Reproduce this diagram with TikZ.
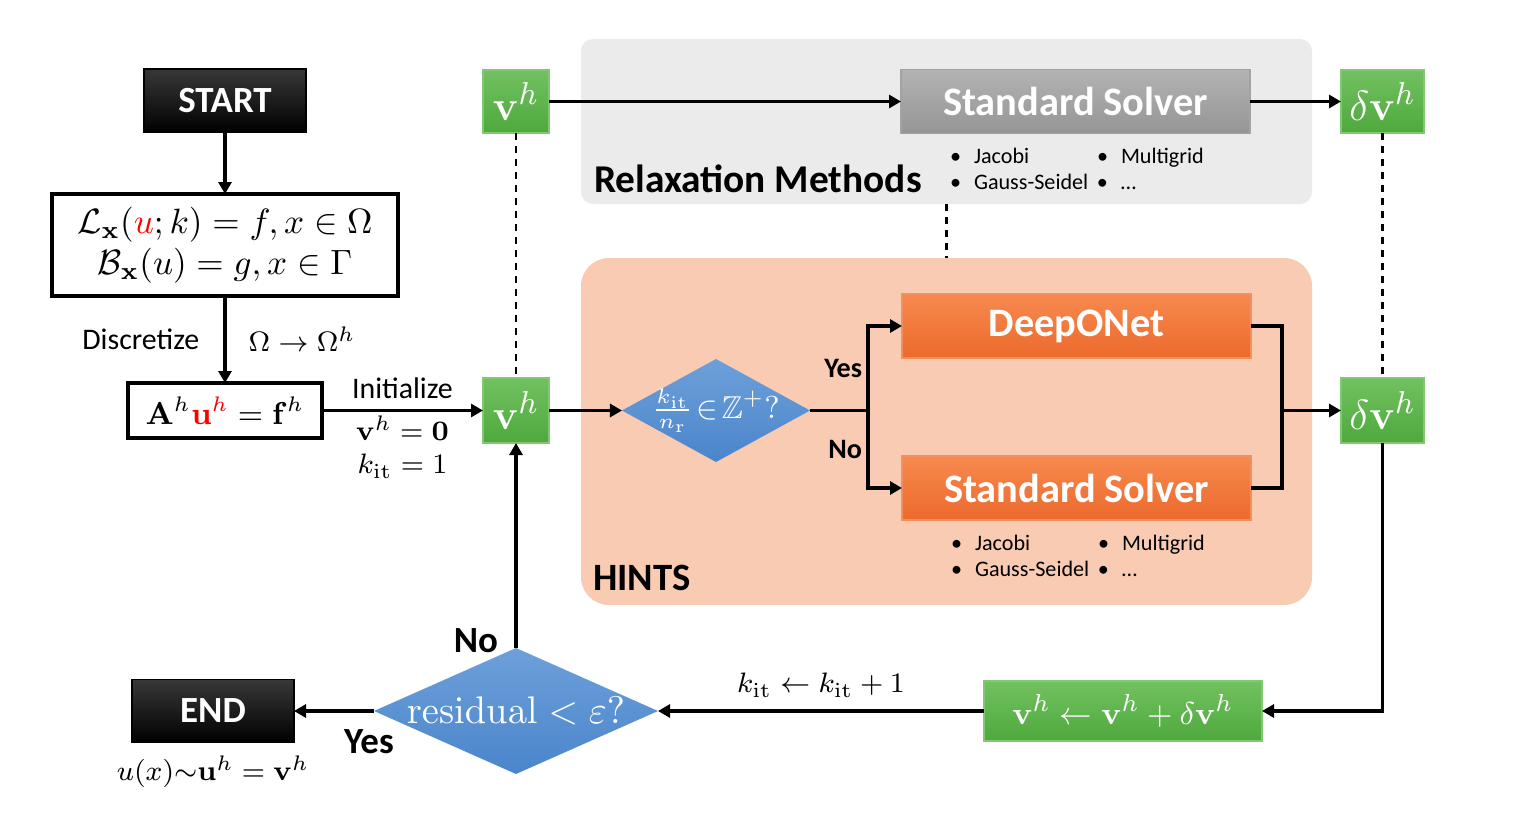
\documentclass[tikz,border=0pt]{standalone}
\usepackage[no-math]{fontspec}
\setmainfont{Carlito}
\usepackage{amsmath,amssymb}
\usepackage{xcolor}
\usetikzlibrary{arrows.meta, positioning, shapes.geometric, calc}

\definecolor{greentop}{HTML}{72C160}
\definecolor{greenbot}{HTML}{4EA93D}
\definecolor{greenline}{HTML}{82C872}
\definecolor{orangetop}{HTML}{F78A4F}
\definecolor{orangebot}{HTML}{EC692C}
\definecolor{orangeline}{HTML}{F3915E}
\definecolor{graytop}{HTML}{B3B3B3}
\definecolor{graybot}{HTML}{959595}
\definecolor{grayline}{HTML}{A3A3A3}
\definecolor{bluetop}{HTML}{6DA0DA}
\definecolor{bluebot}{HTML}{4A85CB}
\definecolor{relaxfill}{HTML}{EBEBEB}
\definecolor{hintsfill}{HTML}{F9CBB2}

\newcommand{\solverlist}{%
  \makebox[1.47cm][l]{\textbullet\hspace{0.13cm}Jacobi}\textbullet\hspace{0.13cm}Multigrid\\
  \makebox[1.47cm][l]{\textbullet\hspace{0.13cm}Gauss-Seidel}\textbullet\hspace{0.13cm}\ldots}

\begin{document}
\begin{tikzpicture}[
  every node/.append style={outer sep=0pt},
  termbox/.style={draw=black, top color=black!78, bottom color=black, text=white,
                  font=\fontsize{10.5}{12}\selectfont\bfseries,
                  minimum width=1.62cm, minimum height=0.63cm},
  eqbox/.style={draw, line width=1pt, fill=white, align=center},
  vbox/.style={draw=greenline, line width=0.4pt, top color=greentop, bottom color=greenbot,
               text=white, minimum height=0.63cm, inner sep=0pt,
               font=\fontsize{13}{15}\selectfont},
  solverbox/.style={minimum width=3.49cm, minimum height=0.64cm, text=white,
                    font=\fontsize{11.5}{13}\selectfont\bfseries},
  hintbox/.style={solverbox, draw=orangeline, top color=orangetop, bottom color=orangebot},
  relaxbox/.style={solverbox, draw=grayline, top color=graytop, bottom color=graybot},
  decision/.style={diamond, top color=bluetop, bottom color=bluebot, text=white, inner sep=0pt},
  panel/.style={minimum width=7.31cm},
  arrow/.style={-{Triangle[length=0.12cm, width=0.13cm]}, line width=0.9pt},
  link/.style={line width=0.9pt},
  guide/.style={line width=0.7pt, dash pattern=on 0.07cm off 0.06cm},
  tag/.style={font=\fontsize{8.5}{10}\selectfont},
  yesno/.style={font=\fontsize{8}{10}\selectfont\bfseries, inner sep=0.06cm},
  bigyesno/.style={font=\fontsize{10.5}{12}\selectfont\bfseries, inner sep=0.06cm},
  methods/.style={font=\fontsize{6.3}{7.4}\selectfont, align=left, inner sep=0pt},
  title/.style={font=\fontsize{11.2}{13}\selectfont\bfseries, inner sep=0pt}
]
\useasboundingbox (0,0) rectangle (15.15,-8.31);

%% Panels
\node[panel, fill=relaxfill, rounded corners=0.12cm, minimum height=1.65cm] (relax) at (9.465,-1.215) {};
\node[panel, fill=hintsfill, rounded corners=0.28cm, minimum height=3.47cm] (hints) at (9.465,-4.315) {};
\node[title, above right=0.11cm and 0.13cm of relax.south west] (relaxtitle) {Relaxation Methods};
\node[title, font=\fontsize{11}{13}\selectfont\bfseries, above right=0.145cm and 0.12cm of hints.south west] (hintstitle) {HINTS};

%% Nodes
\node[termbox] (start) at (2.25,-1.005) {START};
\node[eqbox, minimum width=3.46cm, minimum height=1.02cm, below=0.62cm of start,
      font=\fontsize{10}{11.5}\selectfont] (pde)
      {$\mathcal{L}_{\mathbf{x}}(\textcolor{red}{u};k)=f,x\in\Omega$\\$\mathcal{B}_{\mathbf{x}}(u)=g,x\in\Gamma$};
\node[eqbox, minimum width=1.94cm, minimum height=0.55cm, below=0.87cm of pde,
      font=\fontsize{9}{11}\selectfont] (disc) {$\mathbf{A}^h\textcolor{red}{\mathbf{u}^h}=\mathbf{f}^h$};
\node[vbox, minimum width=0.66cm, minimum height=0.65cm, right=1.61cm of disc] (vmid) {$\mathbf{v}^h$};
\node[vbox, minimum width=0.66cm, above=2.45cm of vmid] (vtop) {$\mathbf{v}^h$};
\node[relaxbox, right=3.52cm of vtop] (relsolver) {Standard Solver};
\node[vbox, minimum width=0.83cm, right=0.91cm of relsolver] (dvtop) {$\delta\mathbf{v}^h$};
\node[vbox, minimum width=0.83cm, minimum height=0.65cm, below=2.45cm of dvtop] (dvmid) {$\delta\mathbf{v}^h$};
\node[decision, aspect=1.83, minimum width=1.88cm, minimum height=1.03cm, right=0.73cm of vmid,
      inner xsep=-0.1cm, inner ysep=-0.05cm,
      font=\fontsize{9}{11}\selectfont] (cond) {$\tfrac{k_{\mathrm{it}}}{n_{\mathrm{r}}}\!\in\!\mathbb{Z}^{+}?$};
\coordinate[right=0.58cm of cond.east] (split);
\node[hintbox, right=0.34cm of split, yshift=0.845cm] (deeponet) {DeepONet};
\node[hintbox, below=0.98cm of deeponet] (hsolver) {Standard Solver};
\node[decision, aspect=2.25, minimum width=2.84cm, minimum height=1.26cm, below=2.05cm of vmid,
      font=\fontsize{10.5}{12}\selectfont] (check) {$\mathrm{residual}<\varepsilon?$};
\node[vbox, minimum width=2.78cm, minimum height=0.60cm, right=3.26cm of check,
      font=\fontsize{9.5}{11}\selectfont] (update) {$\mathbf{v}^h\leftarrow\mathbf{v}^h+\delta\mathbf{v}^h$};
\node[termbox, left=0.80cm of check] (finish) {END};
\node[below=0.02cm of finish, font=\fontsize{8.5}{11}\selectfont] (result) {$u(x){\sim}\mathbf{u}^h=\mathbf{v}^h$};

\node[methods, below right=0.15cm and 0.49cm of relsolver.south west] (relaxlist) {\solverlist};
\node[methods, below right=0.15cm and 0.49cm of hsolver.south west] (hintslist) {\solverlist};

\coordinate (merge) at ($(dvmid.west)+(-0.59,0)$);

%% Arrows
\draw[arrow] (start) -- (pde);
\draw[arrow] (pde) -- node[tag, left=0.14cm] {Discretize}
                      node[right=0.12cm, font=\fontsize{8.5}{11}\selectfont] {$\Omega\rightarrow\Omega^h$} (disc);
\draw[arrow] (disc) -- node[tag, above] {Initialize}
                       node[below=-0.06cm, align=center, font=\fontsize{8.5}{9.4}\selectfont]
                       {$\mathbf{v}^h=\mathbf{0}$\\$k_{\mathrm{it}}=1$} (vmid);
\draw[arrow] (vtop) -- (relsolver);
\draw[arrow] (relsolver) -- (dvtop);
\draw[guide] (vtop) -- (vmid);
\draw[guide] (dvtop) -- (dvmid);
\draw[guide] (relax) -- (hints);
\draw[arrow] (vmid) -- (cond);
\draw[link] (cond) -- (split);
\draw[arrow] (split) |- node[yesno, pos=0.25, left=0pt] {Yes} (deeponet);
\draw[arrow] (split) |- node[yesno, pos=0.25, left=0pt] {No} (hsolver);
\draw[link] (deeponet) -| (merge);
\draw[link] (hsolver) -| (merge);
\draw[arrow] (merge) -- (dvmid);
\draw[arrow] (dvmid) |- (update);
\draw[arrow] (update) -- node[above=0.02cm, font=\fontsize{8.5}{10}\selectfont]
                         {$k_{\mathrm{it}}\leftarrow k_{\mathrm{it}}+1$} (check);
\draw[arrow] (check) -- node[bigyesno, pos=0, left=0.12cm, yshift=0.07cm] {No} (vmid);
\draw[arrow] (check) -- node[bigyesno, pos=0, below=0.125cm, xshift=-0.05cm] {Yes} (finish);

\end{tikzpicture}
\end{document}
